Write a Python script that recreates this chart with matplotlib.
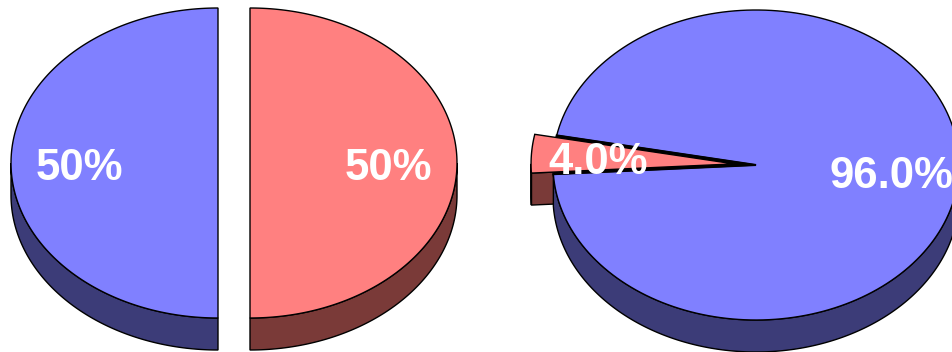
import numpy as np
import matplotlib
matplotlib.use('Agg')
import matplotlib.pyplot as plt
from matplotlib.patches import Polygon

# pie values and labels
left_values = [50, 50]
left_labels = ['50%', '50%']
right_values = [4.0, 96.0]
right_labels = ['4.0%', '96.0%']

top_colors = ['#8080ff', '#ff8080']
side_colors = ['#3c3c78', '#7a3a38']
left_colors = [0, 1]   # blue, red
right_colors = [1, 0]  # red, blue


def arc(cx, cy, rx, ry, a0, a1, n=200):
    t = np.radians(np.linspace(a0, a1, n))
    return np.column_stack([cx + rx * np.cos(t), cy - ry * np.sin(t)])


def draw_pie(ax, cx, cy, rx, ry, depth, values, cidx, labels, explode, start):
    total = sum(values)
    slices = []
    a = start
    for v, e in zip(values, explode):
        a1 = a + 360.0 * v / total
        mid = np.radians((a + a1) / 2)
        ox = e * np.cos(mid)
        oy = -e * np.sin(mid) * ry / rx
        slices.append((a, a1, cx + ox, cy + oy))
        a = a1

    # walls and cut faces
    for (a0, a1, sx, sy), ci in zip(slices, cidx):
        col = side_colors[ci]
        for edge, nrm in ((a0, a0 - 90), (a1, a1 + 90)):
            if np.sin(np.radians(nrm)) < -1e-6:
                rim = arc(sx, sy, rx, ry, edge, edge, 2)[0]
                pts = [(sx, sy), tuple(rim), (rim[0], rim[1] + depth), (sx, sy + depth)]
                ax.add_patch(Polygon(pts, closed=True, fc=col, ec='black', lw=1.0))
        for k in range(-1, 3):
            lo = max(a0, 180 + 360 * k)
            hi = min(a1, 360 + 360 * k)
            if hi > lo:
                top = arc(sx, sy, rx, ry, lo, hi)
                bot = top[::-1] + [0, depth]
                ax.add_patch(Polygon(np.vstack([top, bot]), closed=True,
                                     fc=col, ec='black', lw=1.0))

    # top faces, fixed slices first
    order = sorted(range(len(slices)), key=lambda i: explode[i] > 0)
    for i in order:
        a0, a1, sx, sy = slices[i]
        if explode[i] > 0 and not all(explode):
            hole = np.vstack([[cx, cy], arc(cx, cy, rx, ry, a0, a1)])
            ax.add_patch(Polygon(hole, closed=True, fc='black', ec='black', lw=1.5))
        pts = np.vstack([[sx, sy], arc(sx, sy, rx, ry, a0, a1)])
        ax.add_patch(Polygon(pts, closed=True, fc=top_colors[cidx[i]], ec='black', lw=1.0))

    # labels
    for (a0, a1, sx, sy), lab in zip(slices, labels):
        mid = np.radians((a0 + a1) / 2)
        lx = sx + 0.67 * rx * np.cos(mid)
        ly = sy - 0.67 * ry * np.sin(mid) + 5
        ax.text(lx, ly, lab, color='white', fontsize=31.5, fontweight='bold',
                family='Liberation Sans', ha='center', va='center')


fig = plt.figure(figsize=(9.52, 3.52), dpi=100)
ax = fig.add_axes([0, 0, 1, 1])
ax.set_xlim(0, 952)
ax.set_ylim(352, 0)
ax.axis('off')

draw_pie(ax, 234, 163, 207, 155, 32, left_values, left_colors, left_labels,
         explode=[16, 16], start=90)
draw_pie(ax, 756, 165, 203, 155, 32, right_values, right_colors, right_labels,
         explode=[22, 0], start=169)

fig.savefig('out.png', dpi=100)
